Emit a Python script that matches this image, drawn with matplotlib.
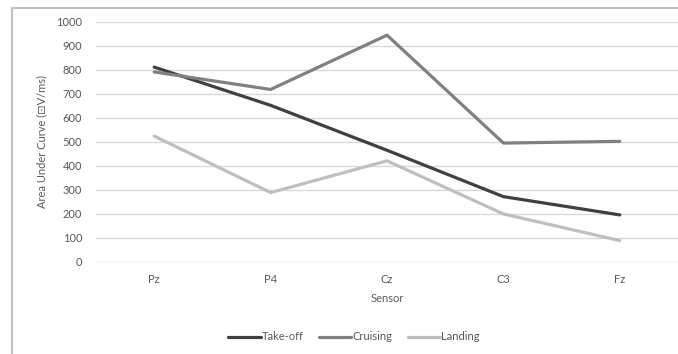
import matplotlib
matplotlib.use("Agg")
import matplotlib.pyplot as plt
from matplotlib.lines import Line2D

sensors = ["Pz", "P4", "Cz", "C3", "Fz"]
take_off = [811, 652, 465, 272, 196]
cruising = [791, 718, 944, 495, 502]
landing = [524, 289, 421, 200, 89]
yticks = [0, 100, 200, 300, 400, 500, 600, 700, 800, 900, 1000]

W, H = 678, 354
plt.rcParams["font.family"] = ["Lato", "DejaVu Sans"]
text_color = "#595959"
fs = 8

fig = plt.figure(figsize=(W / 100, H / 100), dpi=100)
ax = fig.add_axes([96 / W, 1 - 262 / H, (W - 96) / W, (262 - 21.7) / H])

x = list(range(len(sensors)))
series = [("Take-off", take_off, "#404040"),
          ("Cruising", cruising, "#808080"),
          ("Landing", landing, "#bfbfbf")]
for name, vals, col in series:
    ax.plot(x, vals, color=col, lw=2.3, solid_capstyle="round",
            solid_joinstyle="round", label=name)

ax.set_xlim(-0.5, len(sensors) - 0.5)
ax.set_ylim(0, 1000)
ax.set_yticks(yticks)
ax.set_xticks(x)
ax.set_xticklabels(sensors)
ax.yaxis.grid(True, color="#d9d9d9", lw=1)
ax.set_axisbelow(True)
for s in ax.spines.values():
    s.set_visible(False)
ax.tick_params(axis="both", length=0, labelsize=fs, colors=text_color)
ax.tick_params(axis="y", pad=10)
ax.tick_params(axis="x", pad=8.5)

fig.text(42 / W, 1 - 142 / H, "Area Under Curve (\u22a1V/ms)", rotation=90,
         ha="center", va="center", fontsize=fs, color=text_color)
fig.text((96 + W) / 2 / W, 1 - 298 / H, "Sensor", ha="center", va="center",
         fontsize=fs, color=text_color)

fig.legend(loc="center", bbox_to_anchor=(354 / W, 1 - 337 / H), ncol=3,
           frameon=False, fontsize=fs, handlelength=2.9, handletextpad=0.1,
           columnspacing=1.4, labelcolor=text_color)

# outer chart border (left and top edges)
fig.add_artist(Line2D([12 / W, 12 / W], [0, 1 - 7.5 / H], color="#bfbfbf",
                      lw=1.5, transform=fig.transFigure))
fig.add_artist(Line2D([12 / W, 1], [1 - 7.5 / H, 1 - 7.5 / H], color="#bfbfbf",
                      lw=1.5, transform=fig.transFigure))

fig.savefig("out.png", dpi=100)
